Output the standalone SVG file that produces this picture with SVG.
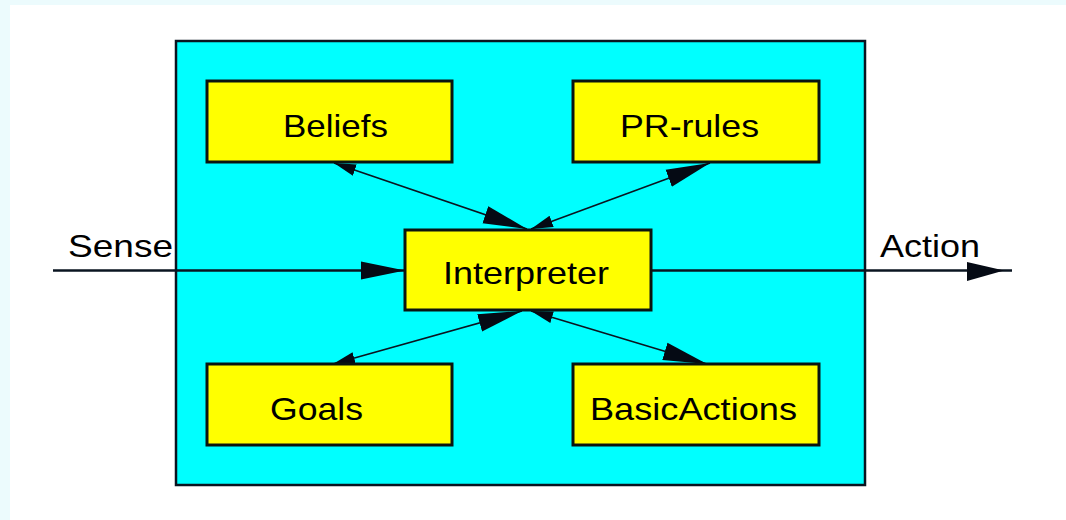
<svg xmlns="http://www.w3.org/2000/svg" width="1066" height="520" viewBox="0 0 1066 520">
<style>
.box{fill:#ffff00;stroke:#0a1410;stroke-width:3}
.lbl{font-family:"Liberation Sans",Arial,sans-serif;font-size:32px;fill:#000;text-anchor:start}
.con{stroke:#0a1420;stroke-width:1.6;fill:none}
.main{stroke:#0a1420;stroke-width:2.5;fill:none}
</style>
<defs>
<marker id="big" markerUnits="userSpaceOnUse" markerWidth="46" markerHeight="22" refX="44" refY="11" orient="auto-start-reverse" viewBox="0 0 46 22"><path d="M0,2 L44,11 L0,20 Z" fill="#050a14"/></marker>
<marker id="small" markerUnits="userSpaceOnUse" markerWidth="24" markerHeight="14" refX="22" refY="7" orient="auto-start-reverse" viewBox="0 0 24 14"><path d="M0,1 L22,7 L0,13 Z" fill="#050a14"/></marker>
</defs>
<rect x="0" y="0" width="1066" height="520" fill="#ffffff"/>
<rect x="0" y="0" width="1066" height="5" fill="#ecfbfd"/>
<rect x="0" y="0" width="10" height="520" fill="#ecfbfd"/>
<g id="agent"><rect x="176" y="41" width="689" height="444" fill="#00ffff" stroke="#0a1420" stroke-width="2.5"/></g>
<g id="connectors">
<line class="main" x1="53" y1="270.5" x2="405" y2="270.5" marker-end="url(#big)"/>
<line class="main" x1="652" y1="270.5" x2="1012" y2="270.5"/>
<path d="M967,262 L1004,270.5 L967,281 Z" fill="#050a14"/>
<line class="con" x1="334" y1="163" x2="527" y2="229" marker-start="url(#small)" marker-end="url(#big)"/>
<line class="con" x1="531" y1="229" x2="710" y2="163" marker-start="url(#small)" marker-end="url(#big)"/>
<line class="con" x1="333" y1="364" x2="522" y2="311" marker-start="url(#small)" marker-end="url(#big)"/>
<line class="con" x1="531" y1="311" x2="707" y2="364" marker-start="url(#small)" marker-end="url(#big)"/>
</g>
<g id="beliefs"><rect class="box" x="207" y="81" width="245" height="81"/><text class="lbl" x="283" y="137" textLength="105" lengthAdjust="spacingAndGlyphs">Beliefs</text></g>
<g id="prrules"><rect class="box" x="573" y="81" width="246" height="81"/><text class="lbl" x="620" y="137" textLength="139" lengthAdjust="spacingAndGlyphs">PR-rules</text></g>
<g id="interpreter"><rect class="box" x="405" y="230" width="246" height="80"/><text class="lbl" x="443" y="284" textLength="166" lengthAdjust="spacingAndGlyphs">Interpreter</text></g>
<g id="goals"><rect class="box" x="207" y="364" width="245" height="81"/><text class="lbl" x="270" y="420" textLength="93" lengthAdjust="spacingAndGlyphs">Goals</text></g>
<g id="basicactions"><rect class="box" x="573" y="364" width="246" height="81"/><text class="lbl" x="590" y="420" textLength="207" lengthAdjust="spacingAndGlyphs">BasicActions</text></g>
<g id="labels">
<text class="lbl" x="68" y="257" textLength="105" lengthAdjust="spacingAndGlyphs">Sense</text>
<text class="lbl" x="880" y="257" textLength="100" lengthAdjust="spacingAndGlyphs">Action</text>
</g>
</svg>
